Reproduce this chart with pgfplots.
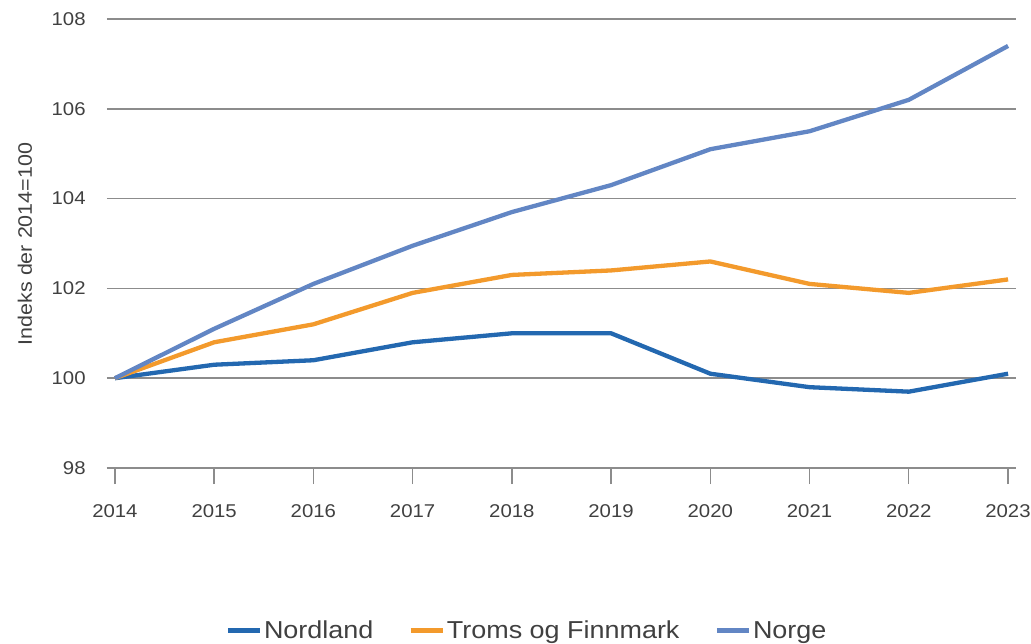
\documentclass[border=0pt]{standalone}
\usepackage{fontspec}
\setmainfont{Liberation Sans}[FakeStretch=1.1]
\usepackage{pgfplots}
\pgfplotsset{compat=1.18}
\definecolor{nord}{HTML}{2368B0}
\definecolor{troms}{HTML}{F39A2C}
\definecolor{norge}{HTML}{6286C4}
\definecolor{txt}{HTML}{404040}
\definecolor{gridc}{HTML}{8C8C8C}
\begin{document}
\begin{tikzpicture}
\useasboundingbox (-107pt,-175pt) rectangle (924pt,468pt);
\begin{axis}[
  scale only axis, width=909pt, height=449pt,
  xmin=2013.92, xmax=2023.08, ymin=98, ymax=108,
  xtick={2014,...,2023}, ytick={98,100,...,108},
  axis x line*=bottom, axis y line*=left,
  y axis line style={draw=none},
  x axis line style={draw=gridc, line width=1.5pt, -},
  ytick style={draw=none},
  xtick style={draw=gridc, line width=1.5pt},
  tick align=outside, major tick length=16pt,
  ymajorgrids, grid style={draw=gridc, line width=1.5pt},
  /pgf/number format/assume math mode=true,
  /pgf/number format/1000 sep={},
  ticklabel style={font=\fontsize{18.5}{20}\selectfont, text=txt},
  yticklabel style={xshift=-2pt},
  xticklabel style={yshift=-17pt},
  ylabel={Indeks der 2014=100},
  ylabel style={at={(axis description cs:-0.0902,0.4989)}, anchor=center, font=\fontsize{19.5}{21}\selectfont, text=txt},
  legend columns=3,
  legend style={at={(0.462,-0.362)}, anchor=center, draw=none, fill=none, font=\fontsize{24.5}{27}\selectfont, text=txt,
    /tikz/every even column/.append style={column sep=33pt}},
  legend image code/.code={\draw[#1, line width=4.5pt] (0pt,0pt) -- (32pt,0pt);},
  every axis plot/.append style={line width=4.3pt, line join=round},
]
\addplot[nord] coordinates {(2014,100) (2015,100.3) (2016,100.4) (2017,100.8) (2018,101.0) (2019,101.0) (2020,100.1) (2021,99.8) (2022,99.7) (2023,100.1)};
\addlegendentry{Nordland}
\addplot[troms] coordinates {(2014,100) (2015,100.8) (2016,101.2) (2017,101.9) (2018,102.3) (2019,102.4) (2020,102.6) (2021,102.1) (2022,101.9) (2023,102.2)};
\addlegendentry{Troms og Finnmark}
\addplot[norge] coordinates {(2014,100) (2015,101.1) (2016,102.1) (2017,102.95) (2018,103.7) (2019,104.3) (2020,105.1) (2021,105.5) (2022,106.2) (2023,107.4)};
\addlegendentry{Norge}
\end{axis}
\end{tikzpicture}
\end{document}
